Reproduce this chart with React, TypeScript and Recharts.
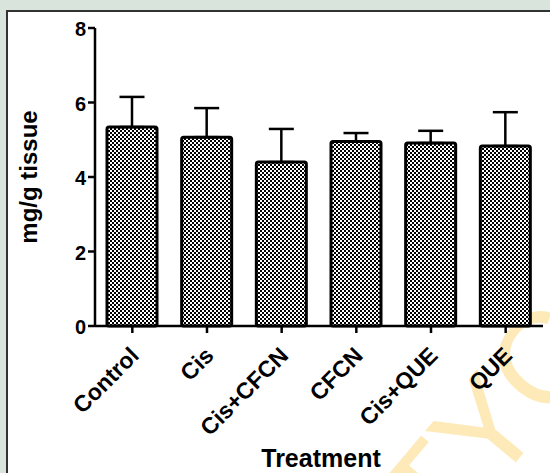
import React from "react";
import { BarChart, Bar, XAxis, YAxis, ErrorBar, Customized } from "recharts";

const treatments = ["Control", "Cis", "Cis+CFCN", "CFCN", "Cis+QUE", "QUE"];
const means = [5.34, 5.07, 4.4, 4.95, 4.91, 4.83];
const sds = [0.81, 0.78, 0.89, 0.23, 0.33, 0.91];
const yTicks = [0, 2, 4, 6, 8];

const data = treatments.map((name, i) => ({
  name,
  mean: means[i],
  err: [0, sds[i]],
}));

const FONT = "'Liberation Sans', Arial, sans-serif";

const CheckerBar = (props: any) => {
  const { x, y, width, height } = props;
  return (
    <rect
      x={x}
      y={y}
      width={width}
      height={height}
      rx={2}
      fill="url(#checker)"
      stroke="#000"
      strokeWidth={3}
    />
  );
};

const XTick = (props: any) => {
  const { x, y, payload } = props;
  const ax = x + 8;
  const ay = y + 22;
  return (
    <text
      x={ax}
      y={ay}
      transform={`rotate(-45 ${ax} ${ay})`}
      textAnchor="end"
      fontFamily={FONT}
      fontWeight="bold"
      fontSize={23}
      fill="#000"
    >
      {payload.value}
    </text>
  );
};

const Extras = () => (
  <g>
    <defs>
      <pattern id="checker" width={4} height={4} patternUnits="userSpaceOnUse">
        <rect width={4} height={4} fill="#000" />
        <rect x={0} y={0} width={2} height={2} fill="#fff" />
        <rect x={2} y={2} width={2} height={2} fill="#fff" />
      </pattern>
    </defs>
    <text
      x={28}
      y={177}
      transform="rotate(-90 28 177)"
      textAnchor="middle"
      dominantBaseline="central"
      fontFamily={FONT}
      fontWeight="bold"
      fontSize={24}
      fill="#000"
    >
      mg/g tissue
    </text>
    <text
      x={321}
      y={467}
      textAnchor="middle"
      fontFamily={FONT}
      fontWeight="bold"
      fontSize={25}
      fill="#000"
    >
      Treatment
    </text>
  </g>
);

export default function App() {
  return (
    <div
      style={{
        position: "absolute",
        left: 0,
        top: 0,
        width: 550,
        height: 473,
        background: "#d9e5dc",
        overflow: "hidden",
      }}
    >
      <div
        style={{
          position: "absolute",
          left: 6,
          top: 10,
          width: 560,
          height: 480,
          background: "#fff",
          border: "2px solid #333",
        }}
      />
      <svg
        width={550}
        height={473}
        style={{ position: "absolute", left: 0, top: 0 }}
      >
        <g transform="translate(492 425) rotate(-50)">
          <text
            x={0}
            y={42}
            textAnchor="middle"
            fontFamily={FONT}
            fontSize={130}
            fill="#fdeab8"
          >
            TYC
          </text>
        </g>
      </svg>
      <div style={{ position: "absolute", left: 0, top: 0 }}>
        <BarChart
          width={550}
          height={473}
          data={data}
          margin={{ top: 28, right: 7, bottom: 0, left: 40 }}
        >
          <Customized component={Extras} />
          <XAxis
            dataKey="name"
            height={147}
            interval={0}
            tick={<XTick />}
            tickLine={{ stroke: "#000", strokeWidth: 2.5 }}
            tickSize={7}
            axisLine={{ stroke: "#000", strokeWidth: 2.5 }}
          />
          <YAxis
            width={55}
            domain={[0, 8]}
            ticks={yTicks}
            tickSize={7}
            tickLine={{ stroke: "#000", strokeWidth: 2.5 }}
            axisLine={{ stroke: "#000", strokeWidth: 2.5 }}
            tick={{
              fontFamily: FONT,
              fontWeight: "bold",
              fontSize: 20,
              fill: "#000",
              dy: 1,
            }}
          />
          <Bar
            dataKey="mean"
            barSize={50}
            shape={<CheckerBar />}
            isAnimationActive={false}
          >
            <ErrorBar
              dataKey="err"
              width={12.5}
              stroke="#000"
              strokeWidth={2.5}
              direction="y"
            />
          </Bar>
        </BarChart>
      </div>
    </div>
  );
}
